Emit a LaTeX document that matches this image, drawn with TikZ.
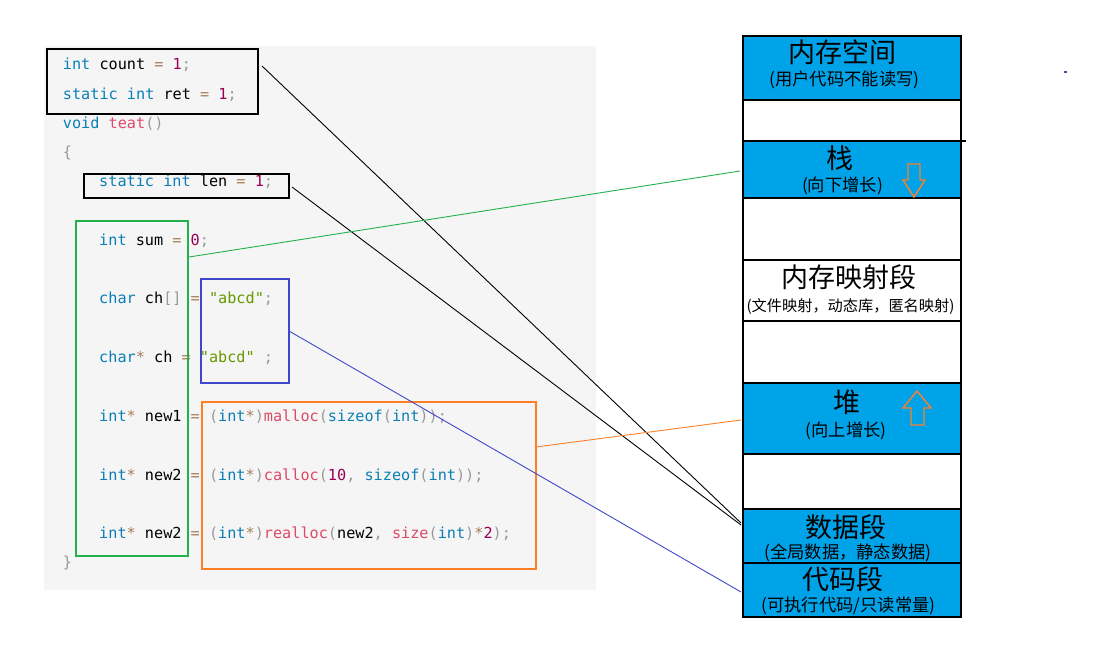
\documentclass[tikz,border=0pt]{standalone}
\usepackage{fontspec}
\newfontfamily\codefont{DejaVu Sans Mono}
\newfontfamily\cjk{Noto Sans CJK SC}
\definecolor{codebg}{HTML}{F5F5F5}
\definecolor{ckwc}{HTML}{0A7FB5}
\definecolor{cfnc}{HTML}{DD4A68}
\definecolor{cnumc}{HTML}{990055}
\definecolor{copc}{HTML}{A67F59}
\definecolor{cstrc}{HTML}{669900}
\definecolor{cpuc}{HTML}{999999}
\definecolor{memblue}{HTML}{00A2E8}
\definecolor{pgreen}{HTML}{22B14C}
\definecolor{porange}{HTML}{FF7F27}
\definecolor{pindigo}{HTML}{3F48CC}
\newcommand\ckw[1]{\textcolor{ckwc}{#1}}
\newcommand\cfn[1]{\textcolor{cfnc}{#1}}
\newcommand\cnum[1]{\textcolor{cnumc}{#1}}
\newcommand\cop[1]{\textcolor{copc}{#1}}
\newcommand\cstr[1]{\textcolor{cstrc}{#1}}
\newcommand\cpu[1]{\textcolor{cpuc}{#1}}
\tikzset{
  code/.style={anchor=base west, inner sep=0pt, font={\codefont\fontsize{15.2}{18}\selectfont}},
  codebox/.style={draw=#1, line width=1.3pt, inner sep=0pt, outer sep=0pt, anchor=north west, fill=none},
  seg/.style={draw=black, line width=1.6pt, minimum width=218pt, minimum height=#1, inner sep=0pt, outer sep=0pt, anchor=north west},
  memtitle/.style={anchor=base, inner sep=0pt, font={\cjk\fontsize{27}{30}\selectfont}},
  memsub/.style={anchor=base, inner sep=0pt, font={\cjk\fontsize{17.3}{20}\selectfont}},
  memsubsmall/.style={anchor=base, inner sep=0pt, font={\cjk\fontsize{15.2}{18}\selectfont}},
  link/.style={line width=0.9pt},
  growarrow/.style={draw=porange, line width=1.4pt, line join=miter}
}
\begin{document}
\begin{tikzpicture}[x=1pt,y=-1pt]
\useasboundingbox (0,0) rectangle (1096,652);
% code background
\fill[codebg] (44,46) rectangle (596,590);

% code lines
\node[code] (l1) at (62.7,70) {\ckw{int} count \cop{=} \cnum{1}\cpu{;}};
\node[code] (l2) at (62.7,100) {\ckw{static} \ckw{int} ret \cop{=} \cnum{1}\cpu{;}};
\node[code] (l3) at (62.7,129) {\ckw{void} \cfn{teat}\cpu{()}};
\node[code] (l4) at (62.7,158) {\cpu{\{}};
\node[code] (l5) at (99,187) {\ckw{static} \ckw{int} len \cop{=} \cnum{1}\cpu{;}};
\node[code] (l6) at (99,246) {\ckw{int} sum \cop{=} \cnum{0}\cpu{;}};
\node[code] (l7) at (99,304) {\ckw{char} ch\cpu{[]} \cop{=} \cstr{"abcd"}\cpu{;}};
\node[code] (l8) at (99,363) {\ckw{char}\cop{*} ch \cop{=} \cstr{"abcd"} \cpu{;}};
\node[code] (l9) at (99,421) {\ckw{int}\cop{*} new1 \cop{=} \cpu{(}\ckw{int}\cop{*}\cpu{)}\cfn{malloc}\cpu{(}\ckw{sizeof}\cpu{(}\ckw{int}\cpu{));}};
\node[code] (l10) at (99,480) {\ckw{int}\cop{*} new2 \cop{=} \cpu{(}\ckw{int}\cop{*}\cpu{)}\cfn{calloc}\cpu{(}\cnum{10}\cpu{,} \ckw{sizeof}\cpu{(}\ckw{int}\cpu{));}};
\node[code] (l11) at (99,538) {\ckw{int}\cop{*} new2 \cop{=} \cpu{(}\ckw{int}\cop{*}\cpu{)}\cfn{realloc}\cpu{(}new2\cpu{,} \cfn{size}\cpu{(}\ckw{int}\cpu{)}\cop{*}\cnum{2}\cpu{);}};
\node[code] (l12) at (62.7,567) {\cpu{\}}};

% highlight boxes
\node[codebox=black, minimum width=211pt, minimum height=65pt] (gbox1) at (47,49) {};
\node[codebox=black, minimum width=205pt, minimum height=24pt] (lenbox) at (84,174) {};
\node[codebox=pgreen, minimum width=112pt, minimum height=335pt] (gbox) at (76,221) {};
\node[codebox=pindigo, line width=1.2pt, minimum width=88pt, minimum height=104pt] (bbox) at (201,279) {};
\node[codebox=porange, line width=1.2pt, minimum width=334pt, minimum height=167pt] (obox) at (202,402) {};

% memory layout column
\node[seg=64pt, fill=memblue] (kern) at (743,36) {};
\node[seg=41pt] (gap1) at (743,100) {};
\node[seg=57pt, fill=memblue] (stack) at (743,141) {};
\node[seg=62pt] (gap2) at (743,198) {};
\node[seg=61pt] (mmap) at (743,260) {};
\node[seg=62pt] (gap3) at (743,321) {};
\node[seg=71pt, fill=memblue] (heap) at (743,383) {};
\node[seg=55pt] (gap4) at (743,454) {};
\node[seg=54pt, fill=memblue] (data) at (743,509) {};
\node[seg=54pt, fill=memblue] (text) at (743,563) {};
\draw[line width=1.6pt] (961,141) -- (966,141);

% memory labels
\node[memtitle] (t1) at (842,62.5) {内存空间};
\node[memsub] (s1) at (844.5,86) {(用户代码不能读写)};
\node[memtitle] (t2) at (840,168.5) {栈};
\node[memsub] (s2) at (842.5,192) {(向下增长)};
\node[memtitle] (t3) at (849,287.5) {内存映射段};
\node[memsubsmall] (s3) at (850.5,312) {(文件映射，动态库，匿名映射)};
\node[memtitle] (t4) at (846.5,412.5) {堆};
\node[memsub] (s4) at (846,436) {(向上增长)};
\node[memtitle] (t5) at (845.5,537.5) {数据段};
\node[memsub] (s5) at (848,558) {(全局数据，静态数据)};
\node[memtitle] (t6) at (842.5,589.5) {代码段};
\node[memsub] (s6) at (848.5,611) {(可执行代码/只读常量)};

% growth arrows
\draw[growarrow] (908,164) -- (920,164) -- (920,180) -- (925,180) -- (914,197) -- (903,180) -- (908,180) -- cycle;
\draw[growarrow] (917,391) -- (931,408) -- (924,408) -- (924,425) -- (911,425) -- (911,408) -- (903,408) -- cycle;

% connector end points
\coordinate (c1s) at (262,66);
\coordinate (c1e) at (741,523);
\coordinate (c2s) at (292,187);
\coordinate (c2e) at (741,525);
\coordinate (c3s) at (189,257);
\coordinate (c3e) at (740,171);
\coordinate (c4s) at (289,331);
\coordinate (c4e) at (741,592);
\coordinate (c5s) at (536,447);
\coordinate (c5e) at (741,420);

\draw[link, black] (c1s) -- (c1e);
\draw[link, black] (c2s) -- (c2e);
\draw[link, pgreen] (c3s) -- (c3e);
\draw[link, pindigo] (c4s) -- (c4e);
\draw[link, porange] (c5s) -- (c5e);

% small mark
\fill[pindigo] (1064,71.5) rectangle (1067,73);
\end{tikzpicture}
\end{document}
